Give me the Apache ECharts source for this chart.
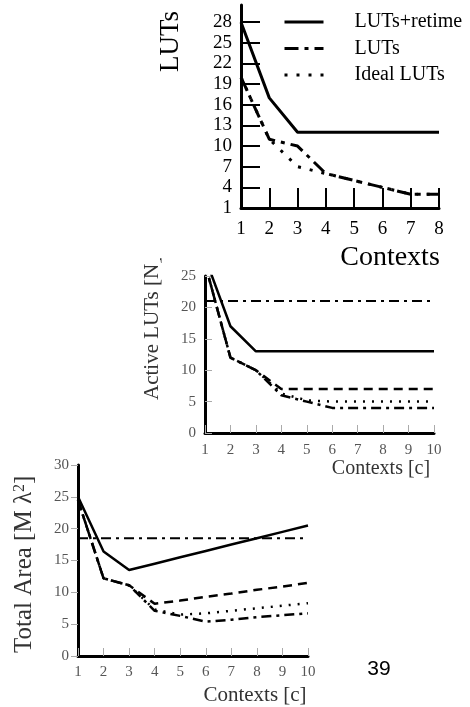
<!DOCTYPE html>
<html>
<head>
<meta charset="utf-8">
<script src="https://cdn.jsdelivr.net/npm/echarts@6/dist/echarts.min.js"></script>
<style>
html,body{margin:0;padding:0;background:#fff;}
#c{width:470px;height:707px;}
</style>
</head>
<body>
<div id="c"></div>
<script>
// ---- data ----
const contextsTop = [1, 2, 3, 4, 5, 6, 7, 8];
const topYTicks = [1, 4, 7, 10, 13, 16, 19, 22, 25, 28];
const topRetime = [28, 17, 12, 12, 12, 12, 12, 12];
const topLuts = [20, 11, 10, 6, 5, 4, 3, 3];
const topIdeal = [20, 11, 7, 6, 5, 4, 3, 3];
const legendNames = ['LUTs+retime', 'LUTs', 'Ideal LUTs'];

const contextsMid = [1, 2, 3, 4, 5, 6, 7, 8, 9, 10];
const midRetime = [28, 17, 13, 13, 13, 13, 13, 13, 13, 13];
const midFlat = [21, 21, 21, 21, 21, 21, 21, 21, 21, 21];
const midLuts = [27, 12, 10, 7, 7, 7, 7, 7, 7, 7];
const midIdeal = [27, 12, 10, 6.3, 5.2, 5, 5, 5, 5, 5];
const midLow = [27, 12, 10, 6, 5, 4, 4, 4, 4, 4];

const contextsBot = [1, 2, 3, 4, 5, 6, 7, 8, 9, 10];
const botRetime = [25, 16.4, 13.5, 14.5, 15.5, 16.5, 17.5, 18.5, 19.5, 20.5];
const botFlat = [18.5, 18.5, 18.5, 18.5, 18.5, 18.5, 18.5, 18.5, 18.5, 18.5];
const botLuts = [24.5, 12.2, 11.1, 8.2, 8.7, 9.3, 9.8, 10.4, 10.9, 11.5];
const botIdeal = [24.5, 12.2, 11.1, 7.3, 6.5, 6.7, 7.1, 7.5, 7.9, 8.3];
const botLow = [24.5, 12.2, 11.1, 7.1, 6.3, 5.4, 5.7, 6.1, 6.4, 6.7];

// ---- helpers ----
const SERIF = "'Liberation Serif', 'DejaVu Serif', serif";
const pairs = (xs, ys) => xs.map((x, i) => [x, ys[i]]);
const SOLID = 'solid';
const DASHDOT_TOP = [14, 6, 4, 6];
const DOT_TOP = [3, 9];
const DASH = [9, 6];
const DASHDOT = [10, 5, 3, 5];
const DOT = [2, 7];

function line(name, xs, ys, idx, type, width, z) {
  return {
    type: 'line', name: name, xAxisIndex: idx, yAxisIndex: idx,
    data: pairs(xs, ys), symbol: 'none', showSymbol: false, animation: false,
    z: z || 2,
    itemStyle: { color: 'rgba(0,0,0,0)' },
    lineStyle: { color: '#000', width: width, type: type, cap: 'butt' }
  };
}

function grayX(idx, margin) {
  return {
    type: 'value', gridIndex: idx, min: 1, max: 10, interval: 1,
    axisLine: { lineStyle: { color: '#000', width: 3 } },
    axisTick: { inside: true, length: 8, lineStyle: { color: '#aaa', width: 1 } },
    axisLabel: { margin: margin, fontFamily: SERIF, fontSize: 15, color: '#555' },
    splitLine: { show: false }
  };
}
function grayY(idx, max, inside) {
  return {
    type: 'value', gridIndex: idx, min: 0, max: max, interval: 5,
    axisLine: { show: true, lineStyle: { color: '#000', width: 3 } },
    axisTick: { show: true, inside: inside, length: 7, lineStyle: { color: '#aaa', width: 1 } },
    axisLabel: { margin: 9, fontFamily: SERIF, fontSize: 15, color: '#555' },
    splitLine: { show: false }
  };
}

const chart = echarts.init(document.getElementById('c'), null, { renderer: 'canvas' });
chart.setOption({
  backgroundColor: '#fff',
  animation: false,
  grid: [
    { left: 241, top: 5, width: 198, height: 203 },
    { left: 205, top: 276, width: 229, height: 157 },
    { left: 78, top: 465, width: 230, height: 191 }
  ],
  legend: {
    data: legendNames,
    orient: 'vertical', left: 283, top: 12, padding: 0,
    itemWidth: 39, itemHeight: 14, itemGap: 6.5,
    itemStyle: { color: 'rgba(0,0,0,0)', borderWidth: 0 },
    lineStyle: { width: 3, color: '#000' },
    textStyle: { fontFamily: SERIF, fontSize: 20, color: '#000', lineHeight: 20, padding: [0, 0, 0, 26] },
    z: 10
  },
  xAxis: [
    {
      type: 'value', gridIndex: 0, min: 1, max: 8, interval: 1, z: 10,
      axisLine: { lineStyle: { color: '#000', width: 3 } },
      axisTick: { inside: true, length: 20, lineStyle: { color: '#000', width: 2 } },
      axisLabel: { margin: 12, fontFamily: SERIF, fontSize: 19, color: '#000' },
      splitLine: { show: false }
    },
    grayX(1, 10),
    grayX(2, 9)
  ],
  yAxis: [
    {
      type: 'value', gridIndex: 0, min: 1, max: 30.5, z: 10,
      axisLine: { show: true, lineStyle: { color: '#000', width: 3 } },
      axisTick: { show: true, inside: true, length: 19, customValues: topYTicks, lineStyle: { color: '#000', width: 2 } },
      axisLabel: { margin: 9, customValues: topYTicks, fontFamily: SERIF, fontSize: 19, color: '#000' },
      splitLine: { show: false }
    },
    grayY(1, 25, true),
    grayY(2, 30, false)
  ],
  graphic: [
    { type: 'text', z: 0, x: 152, y: 400, rotation: Math.PI / 2,
      style: { text: 'Active LUTs [N]', font: "21px 'Liberation Serif'", fill: '#333', textAlign: 'left', textVerticalAlign: 'middle' } },
    { type: 'rect', z: 5, shape: { x: 130, y: 0, width: 30, height: 263 }, style: { fill: '#fff' } },
    { type: 'text', z: 10, x: 171, y: 72, rotation: Math.PI / 2,
      style: { text: 'LUTs', font: "27px 'Liberation Serif'", fill: '#000', textAlign: 'left', textVerticalAlign: 'middle' } },
    { type: 'text', z: 10, x: 390, y: 258,
      style: { text: 'Contexts', font: "28px 'Liberation Serif'", fill: '#000', textAlign: 'center', textVerticalAlign: 'middle' } },
    { type: 'text', z: 10, x: 381, y: 469,
      style: { text: 'Contexts [c]', font: "20px 'Liberation Serif'", fill: '#333', textAlign: 'center', textVerticalAlign: 'middle' } },
    { type: 'text', z: 10, x: 24, y: 653, rotation: Math.PI / 2,
      style: {
        text: 'Total Area [M λ{sup|2}]', font: "25px 'Liberation Serif'", fill: '#333',
        textAlign: 'left', textVerticalAlign: 'middle',
        rich: { sup: { fontSize: 16, fontFamily: 'Liberation Serif', fill: '#333', verticalAlign: 'top' } }
      } },
    { type: 'text', z: 10, x: 255, y: 695,
      style: { text: 'Contexts [c]', font: "21px 'Liberation Serif'", fill: '#333', textAlign: 'center', textVerticalAlign: 'middle' } },
    { type: 'text', z: 10, x: 379, y: 669,
      style: { text: '39', font: "21px 'Liberation Sans'", fill: '#000', textAlign: 'center', textVerticalAlign: 'middle' } }
  ],
  series: [
    line('LUTs+retime', contextsTop, topRetime, 0, SOLID, 3, 10),
    line('LUTs', contextsTop, topLuts, 0, DASHDOT_TOP, 3, 10),
    line('Ideal LUTs', contextsTop, topIdeal, 0, DOT_TOP, 3, 10),

    line('Active retime', contextsMid, midRetime, 1, SOLID, 2.5),
    line('Active flat', contextsMid, midFlat, 1, DASHDOT, 2),
    line('Active LUTs', contextsMid, midLuts, 1, DASH, 2.5),
    line('Active ideal', contextsMid, midIdeal, 1, DOT, 2.5),
    line('Active low', contextsMid, midLow, 1, DASHDOT, 2.5),

    line('Area retime', contextsBot, botRetime, 2, SOLID, 2.5),
    line('Area flat', contextsBot, botFlat, 2, DASHDOT, 2),
    line('Area LUTs', contextsBot, botLuts, 2, DASH, 2.5),
    line('Area ideal', contextsBot, botIdeal, 2, DOT, 2.5),
    line('Area low', contextsBot, botLow, 2, DASHDOT, 2.5)
  ]
});
</script>
</body>
</html>
